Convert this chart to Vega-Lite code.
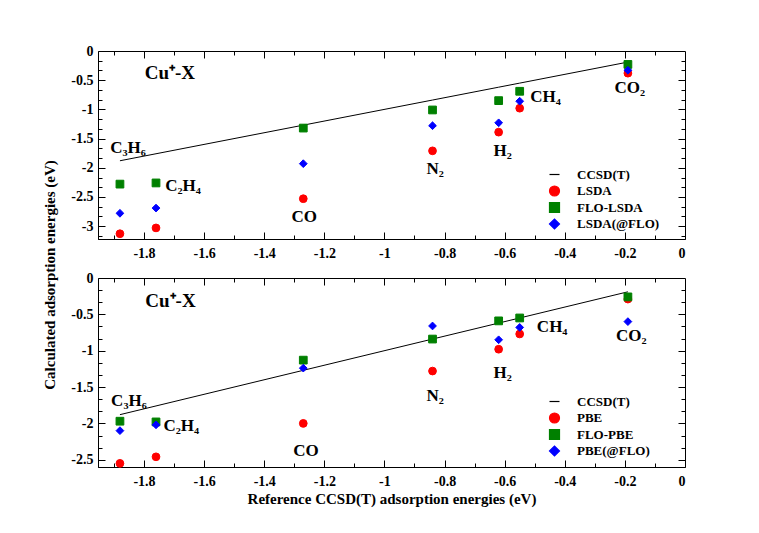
{
  "$schema": "https://vega.github.io/schema/vega-lite/v6.json",
  "background": "white",
  "padding": {"left": 43, "top": 43, "right": 77, "bottom": 30},
  "spacing": 9,
  "title": {
    "text": "Calculated adsorption energies (eV)",
    "orient": "left",
    "anchor": "middle",
    "offset": 12,
    "font": "Liberation Serif",
    "fontSize": 15,
    "fontWeight": "bold",
    "color": "black"
  },
  "config": {
    "view": {"stroke": "black", "strokeWidth": 1},
    "font": "Liberation Serif",
    "axis": {
      "grid": false,
      "domainColor": "black",
      "tickColor": "black",
      "labelFont": "Liberation Serif",
      "labelFontWeight": "bold",
      "labelFontSize": 14,
      "labelColor": "black",
      "labelOverlap": false,
      "titleFont": "Liberation Serif",
      "titleFontWeight": "bold",
      "titleFontSize": 15,
      "titleColor": "black"
    },
    "legend": {
      "labelFont": "Liberation Serif",
      "labelFontWeight": "bold",
      "labelFontSize": 13,
      "labelColor": "black"
    }
  },
  "datasets": {
    "ccsd": [
      {"ref": -1.88}, {"ref": -1.76}, {"ref": -1.27}, {"ref": -0.84},
      {"ref": -0.62}, {"ref": -0.55}, {"ref": -0.19}
    ],
    "lsda": [
      {"mol": "C3H6", "ref": -1.88, "series": "LSDA", "value": -3.13},
      {"mol": "C3H6", "ref": -1.88, "series": "FLO-LSDA", "value": -2.28},
      {"mol": "C3H6", "ref": -1.88, "series": "LSDA(@FLO)", "value": -2.78},
      {"mol": "C2H4", "ref": -1.76, "series": "LSDA", "value": -3.03},
      {"mol": "C2H4", "ref": -1.76, "series": "FLO-LSDA", "value": -2.26},
      {"mol": "C2H4", "ref": -1.76, "series": "LSDA(@FLO)", "value": -2.69},
      {"mol": "CO", "ref": -1.27, "series": "LSDA", "value": -2.53},
      {"mol": "CO", "ref": -1.27, "series": "FLO-LSDA", "value": -1.32},
      {"mol": "CO", "ref": -1.27, "series": "LSDA(@FLO)", "value": -1.93},
      {"mol": "N2", "ref": -0.84, "series": "LSDA", "value": -1.71},
      {"mol": "N2", "ref": -0.84, "series": "FLO-LSDA", "value": -1.01},
      {"mol": "N2", "ref": -0.84, "series": "LSDA(@FLO)", "value": -1.28},
      {"mol": "H2", "ref": -0.62, "series": "LSDA", "value": -1.39},
      {"mol": "H2", "ref": -0.62, "series": "FLO-LSDA", "value": -0.85},
      {"mol": "H2", "ref": -0.62, "series": "LSDA(@FLO)", "value": -1.23},
      {"mol": "CH4", "ref": -0.55, "series": "LSDA", "value": -0.98},
      {"mol": "CH4", "ref": -0.55, "series": "FLO-LSDA", "value": -0.69},
      {"mol": "CH4", "ref": -0.55, "series": "LSDA(@FLO)", "value": -0.86},
      {"mol": "CO2", "ref": -0.19, "series": "LSDA", "value": -0.38},
      {"mol": "CO2", "ref": -0.19, "series": "FLO-LSDA", "value": -0.23},
      {"mol": "CO2", "ref": -0.19, "series": "LSDA(@FLO)", "value": -0.33}
    ],
    "pbe": [
      {"mol": "C3H6", "ref": -1.88, "series": "PBE", "value": -2.55},
      {"mol": "C3H6", "ref": -1.88, "series": "FLO-PBE", "value": -1.97},
      {"mol": "C3H6", "ref": -1.88, "series": "PBE(@FLO)", "value": -2.10},
      {"mol": "C2H4", "ref": -1.76, "series": "PBE", "value": -2.46},
      {"mol": "C2H4", "ref": -1.76, "series": "FLO-PBE", "value": -1.98},
      {"mol": "C2H4", "ref": -1.76, "series": "PBE(@FLO)", "value": -2.02},
      {"mol": "CO", "ref": -1.27, "series": "PBE", "value": -2.00},
      {"mol": "CO", "ref": -1.27, "series": "FLO-PBE", "value": -1.13},
      {"mol": "CO", "ref": -1.27, "series": "PBE(@FLO)", "value": -1.24},
      {"mol": "N2", "ref": -0.84, "series": "PBE", "value": -1.28},
      {"mol": "N2", "ref": -0.84, "series": "FLO-PBE", "value": -0.84},
      {"mol": "N2", "ref": -0.84, "series": "PBE(@FLO)", "value": -0.66},
      {"mol": "H2", "ref": -0.62, "series": "PBE", "value": -0.98},
      {"mol": "H2", "ref": -0.62, "series": "FLO-PBE", "value": -0.59},
      {"mol": "H2", "ref": -0.62, "series": "PBE(@FLO)", "value": -0.85},
      {"mol": "CH4", "ref": -0.55, "series": "PBE", "value": -0.77},
      {"mol": "CH4", "ref": -0.55, "series": "FLO-PBE", "value": -0.55},
      {"mol": "CH4", "ref": -0.55, "series": "PBE(@FLO)", "value": -0.68},
      {"mol": "CO2", "ref": -0.19, "series": "PBE", "value": -0.29},
      {"mol": "CO2", "ref": -0.19, "series": "FLO-PBE", "value": -0.26},
      {"mol": "CO2", "ref": -0.19, "series": "PBE(@FLO)", "value": -0.60}
    ],
    "lsda_labels": [
      {"text": "Cu⁺-X", "x": -1.714, "y": -0.37, "big": true},
      {"text": "C₃H₆", "x": -1.853, "y": -1.66, "big": false},
      {"text": "C₂H₄", "x": -1.67, "y": -2.32, "big": false},
      {"text": "CO", "x": -1.267, "y": -2.85, "big": false},
      {"text": "N₂", "x": -0.831, "y": -2.02, "big": false},
      {"text": "H₂", "x": -0.607, "y": -1.71, "big": false},
      {"text": "CH₄", "x": -0.464, "y": -0.79, "big": false},
      {"text": "CO₂", "x": -0.184, "y": -0.63, "big": false}
    ],
    "pbe_labels": [
      {"text": "Cu⁺-X", "x": -1.712, "y": -0.32, "big": true},
      {"text": "C₃H₆", "x": -1.85, "y": -1.69, "big": false},
      {"text": "C₂H₄", "x": -1.676, "y": -2.03, "big": false},
      {"text": "CO", "x": -1.261, "y": -2.38, "big": false},
      {"text": "N₂", "x": -0.831, "y": -1.63, "big": false},
      {"text": "H₂", "x": -0.607, "y": -1.31, "big": false},
      {"text": "CH₄", "x": -0.442, "y": -0.67, "big": false},
      {"text": "CO₂", "x": -0.179, "y": -0.80, "big": false}
    ]
  },
  "vconcat": [
    {
      "width": 587,
      "height": 188,
      "view": {"stroke": "black"},
      "layer": [
        {
          "data": {"name": "ccsd"},
          "mark": {"type": "line", "color": "black", "strokeWidth": 1},
          "encoding": {
            "x": {
              "field": "ref", "type": "quantitative",
              "scale": {"domain": [-1.953, 0], "nice": false, "zero": false},
              "axis": {
                "title": null, "ticks": false, "labelPadding": 7,
                "values": [-1.8, -1.6, -1.4, -1.2, -1, -0.8, -0.6, -0.4, -0.2, 0],
                "labelExpr": "toString(datum.value)"
              }
            },
            "y": {
              "field": "ref", "type": "quantitative",
              "scale": {"domain": [-3.22, 0], "nice": false, "zero": false},
              "axis": {
                "title": null, "ticks": false, "labelPadding": 5,
                "values": [0, -0.5, -1, -1.5, -2, -2.5, -3],
                "labelExpr": "toString(datum.value)"
              }
            }
          }
        },
        {
          "data": {"name": "ccsd"},
          "mark": {"type": "line", "opacity": 0},
          "encoding": {
            "x": {"field": "ref", "type": "quantitative",
              "axis": {"orient": "top", "offset": -188, "title": null, "labels": false, "domain": false, "tickSize": 7,
                "values": [-1.8, -1.6, -1.4, -1.2, -1, -0.8, -0.6, -0.4, -0.2]}},
            "y": {"field": "ref", "type": "quantitative",
              "axis": {"orient": "right", "offset": -587, "title": null, "labels": false, "domain": false, "tickSize": 7,
                "values": [-0.5, -1, -1.5, -2, -2.5, -3]}}
          }
        },
        {
          "data": {"name": "ccsd"},
          "mark": {"type": "line", "opacity": 0},
          "encoding": {
            "x": {"field": "ref", "type": "quantitative",
              "axis": {"orient": "top", "offset": -188, "title": null, "labels": false, "domain": false, "tickSize": 4,
                "values": [-1.9, -1.7, -1.5, -1.3, -1.1, -0.9, -0.7, -0.5, -0.3, -0.1]}},
            "y": {"field": "ref", "type": "quantitative",
              "axis": {"orient": "right", "offset": -587, "title": null, "labels": false, "domain": false, "tickSize": 4,
                "values": [-0.1667, -0.3333, -0.6667, -0.8333, -1.1667, -1.3333, -1.6667, -1.8333, -2.1667, -2.3333, -2.6667, -2.8333, -3.1667]}}
          }
        },
        {
          "data": {"name": "ccsd"},
          "mark": {"type": "line", "opacity": 0},
          "encoding": {
            "x": {"field": "ref", "type": "quantitative",
              "axis": {"orient": "bottom", "offset": -188, "title": null, "labels": false, "domain": false, "tickSize": 7,
                "values": [-1.8, -1.6, -1.4, -1.2, -1, -0.8, -0.6, -0.4, -0.2]}},
            "y": {"field": "ref", "type": "quantitative",
              "axis": {"orient": "left", "offset": -587, "title": null, "labels": false, "domain": false, "tickSize": 7,
                "values": [-0.5, -1, -1.5, -2, -2.5, -3]}}
          }
        },
        {
          "data": {"name": "ccsd"},
          "mark": {"type": "line", "opacity": 0},
          "encoding": {
            "x": {"field": "ref", "type": "quantitative",
              "axis": {"orient": "bottom", "offset": -188, "title": null, "labels": false, "domain": false, "tickSize": 4,
                "values": [-1.9, -1.7, -1.5, -1.3, -1.1, -0.9, -0.7, -0.5, -0.3, -0.1]}},
            "y": {"field": "ref", "type": "quantitative",
              "axis": {"orient": "left", "offset": -587, "title": null, "labels": false, "domain": false, "tickSize": 4,
                "values": [-0.1667, -0.3333, -0.6667, -0.8333, -1.1667, -1.3333, -1.6667, -1.8333, -2.1667, -2.3333, -2.6667, -2.8333, -3.1667]}}
          }
        },
        {
          "data": {"name": "lsda"},
          "mark": {"type": "point", "filled": true, "size": 60, "opacity": 1, "strokeWidth": 1},
          "encoding": {
            "x": {"field": "ref", "type": "quantitative", "axis": null},
            "y": {"field": "value", "type": "quantitative", "axis": null},
            "fill": {
              "field": "series", "type": "nominal",
              "scale": {"domain": ["CCSD(T)", "LSDA", "FLO-LSDA", "LSDA(@FLO)"], "range": ["black", "#ff0000", "#008000", "#0000ff"]},
              "legend": {
                "title": null, "orient": "none", "legendX": 450, "legendY": 117,
                "symbolStrokeWidth": 1.2, "rowPadding": 1.5, "labelOffset": 16
              }
            },
            "stroke": {
              "field": "series", "type": "nominal",
              "scale": {"domain": ["CCSD(T)", "LSDA", "FLO-LSDA", "LSDA(@FLO)"], "range": ["black", "#ff0000", "#008000", "#0000ff"]}
            },
            "shape": {
              "field": "series", "type": "nominal",
              "scale": {"domain": ["CCSD(T)", "LSDA", "FLO-LSDA", "LSDA(@FLO)"], "range": ["stroke", "circle", "square", "diamond"]}
            }
          }
        },
        {
          "data": {"name": "lsda_labels"},
          "mark": {"type": "text", "font": "Liberation Serif", "fontWeight": "bold", "color": "black"},
          "encoding": {
            "x": {"field": "x", "type": "quantitative", "axis": null},
            "y": {"field": "y", "type": "quantitative", "axis": null},
            "text": {"field": "text"},
            "size": {"condition": {"test": "datum.big", "value": 19}, "value": 17}
          }
        }
      ],
      "resolve": {"axis": {"x": "independent", "y": "independent"}}
    },
    {
      "width": 587,
      "height": 189,
      "view": {"stroke": "black"},
      "layer": [
        {
          "data": {"name": "ccsd"},
          "mark": {"type": "line", "color": "black", "strokeWidth": 1},
          "encoding": {
            "x": {
              "field": "ref", "type": "quantitative",
              "scale": {"domain": [-1.953, 0], "nice": false, "zero": false},
              "axis": {
                "title": "Reference CCSD(T) adsorption energies (eV)", "titlePadding": 3,
                "ticks": false, "labelPadding": 7,
                "values": [-1.8, -1.6, -1.4, -1.2, -1, -0.8, -0.6, -0.4, -0.2, 0],
                "labelExpr": "toString(datum.value)"
              }
            },
            "y": {
              "field": "ref", "type": "quantitative",
              "scale": {"domain": [-2.6, 0], "nice": false, "zero": false},
              "axis": {
                "title": null, "ticks": false, "labelPadding": 5,
                "values": [0, -0.5, -1, -1.5, -2, -2.5],
                "labelExpr": "toString(datum.value)"
              }
            }
          }
        },
        {
          "data": {"name": "ccsd"},
          "mark": {"type": "line", "opacity": 0},
          "encoding": {
            "x": {"field": "ref", "type": "quantitative",
              "axis": {"orient": "top", "offset": -189, "title": null, "labels": false, "domain": false, "tickSize": 7,
                "values": [-1.8, -1.6, -1.4, -1.2, -1, -0.8, -0.6, -0.4, -0.2]}},
            "y": {"field": "ref", "type": "quantitative",
              "axis": {"orient": "right", "offset": -587, "title": null, "labels": false, "domain": false, "tickSize": 7,
                "values": [-0.5, -1, -1.5, -2, -2.5]}}
          }
        },
        {
          "data": {"name": "ccsd"},
          "mark": {"type": "line", "opacity": 0},
          "encoding": {
            "x": {"field": "ref", "type": "quantitative",
              "axis": {"orient": "top", "offset": -189, "title": null, "labels": false, "domain": false, "tickSize": 4,
                "values": [-1.9, -1.7, -1.5, -1.3, -1.1, -0.9, -0.7, -0.5, -0.3, -0.1]}},
            "y": {"field": "ref", "type": "quantitative",
              "axis": {"orient": "right", "offset": -587, "title": null, "labels": false, "domain": false, "tickSize": 4,
                "values": [-0.1667, -0.3333, -0.6667, -0.8333, -1.1667, -1.3333, -1.6667, -1.8333, -2.1667, -2.3333]}}
          }
        },
        {
          "data": {"name": "ccsd"},
          "mark": {"type": "line", "opacity": 0},
          "encoding": {
            "x": {"field": "ref", "type": "quantitative",
              "axis": {"orient": "bottom", "offset": -189, "title": null, "labels": false, "domain": false, "tickSize": 7,
                "values": [-1.8, -1.6, -1.4, -1.2, -1, -0.8, -0.6, -0.4, -0.2]}},
            "y": {"field": "ref", "type": "quantitative",
              "axis": {"orient": "left", "offset": -587, "title": null, "labels": false, "domain": false, "tickSize": 7,
                "values": [-0.5, -1, -1.5, -2, -2.5]}}
          }
        },
        {
          "data": {"name": "ccsd"},
          "mark": {"type": "line", "opacity": 0},
          "encoding": {
            "x": {"field": "ref", "type": "quantitative",
              "axis": {"orient": "bottom", "offset": -189, "title": null, "labels": false, "domain": false, "tickSize": 4,
                "values": [-1.9, -1.7, -1.5, -1.3, -1.1, -0.9, -0.7, -0.5, -0.3, -0.1]}},
            "y": {"field": "ref", "type": "quantitative",
              "axis": {"orient": "left", "offset": -587, "title": null, "labels": false, "domain": false, "tickSize": 4,
                "values": [-0.1667, -0.3333, -0.6667, -0.8333, -1.1667, -1.3333, -1.6667, -1.8333, -2.1667, -2.3333]}}
          }
        },
        {
          "data": {"name": "pbe"},
          "mark": {"type": "point", "filled": true, "size": 60, "opacity": 1, "strokeWidth": 1},
          "encoding": {
            "x": {"field": "ref", "type": "quantitative", "axis": null},
            "y": {"field": "value", "type": "quantitative", "axis": null},
            "fill": {
              "field": "series", "type": "nominal",
              "scale": {"domain": ["CCSD(T)", "PBE", "FLO-PBE", "PBE(@FLO)"], "range": ["black", "#ff0000", "#008000", "#0000ff"]},
              "legend": {
                "title": null, "orient": "none", "legendX": 450, "legendY": 117,
                "symbolStrokeWidth": 1.2, "rowPadding": 1.5, "labelOffset": 16
              }
            },
            "stroke": {
              "field": "series", "type": "nominal",
              "scale": {"domain": ["CCSD(T)", "PBE", "FLO-PBE", "PBE(@FLO)"], "range": ["black", "#ff0000", "#008000", "#0000ff"]}
            },
            "shape": {
              "field": "series", "type": "nominal",
              "scale": {"domain": ["CCSD(T)", "PBE", "FLO-PBE", "PBE(@FLO)"], "range": ["stroke", "circle", "square", "diamond"]}
            }
          }
        },
        {
          "data": {"name": "pbe_labels"},
          "mark": {"type": "text", "font": "Liberation Serif", "fontWeight": "bold", "color": "black"},
          "encoding": {
            "x": {"field": "x", "type": "quantitative", "axis": null},
            "y": {"field": "y", "type": "quantitative", "axis": null},
            "text": {"field": "text"},
            "size": {"condition": {"test": "datum.big", "value": 19}, "value": 17}
          }
        }
      ],
      "resolve": {"axis": {"x": "independent", "y": "independent"}}
    }
  ],
  "resolve": {"scale": {"fill": "independent", "stroke": "independent", "shape": "independent"}, "legend": {"fill": "independent", "stroke": "independent", "shape": "independent"}}
}
